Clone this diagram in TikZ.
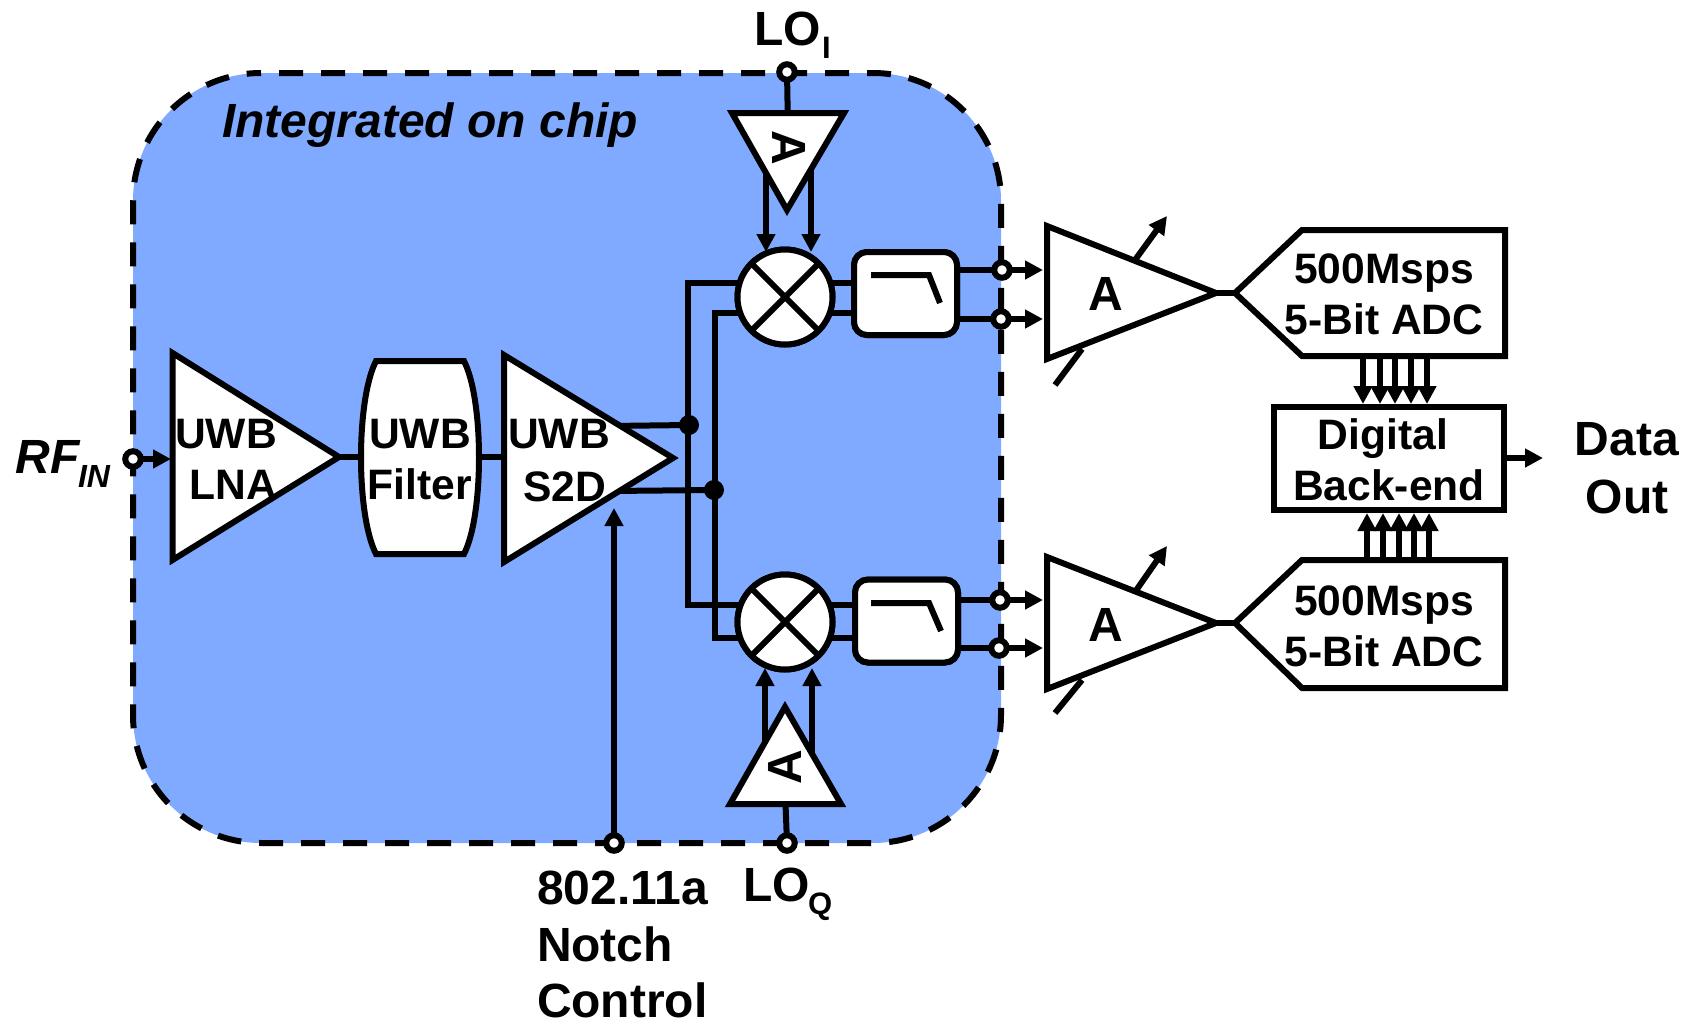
\documentclass[tikz,border=0pt]{standalone}
\usepackage{fontspec}
\setmainfont{Liberation Sans}
\usetikzlibrary{arrows.meta}
\definecolor{chipblue}{RGB}{128,170,255}
\tikzset{
  ln/.style={line width=3pt,line cap=butt,line join=miter,miter limit=10},
  arr/.style={ln,-{Triangle[length=9pt,width=9pt]}},
  shapebox/.style={ln,fill=white},
  term/.style={circle,draw,line width=3pt,fill=white,minimum size=7.75pt,inner sep=0pt,outer sep=0pt},
  dotj/.style={circle,fill=black,minimum size=10pt,inner sep=0pt,outer sep=0pt},
  mixer/.style={circle,draw,line width=3pt,fill=white,minimum size=47.5pt,inner sep=0pt,outer sep=0pt},
  lpf/.style={rectangle,draw,rounded corners=6.5pt,line width=3pt,fill=white,minimum width=51.5pt,minimum height=41.5pt,inner sep=0pt,outer sep=0pt},
  txt/.style={inner sep=0pt,outer sep=0pt,anchor=base,font=\bfseries\fontsize{21.3}{25}\selectfont},
  big/.style={inner sep=0pt,outer sep=0pt,anchor=base,font=\bfseries\fontsize{24}{28}\selectfont},
  bigw/.style={inner sep=0pt,outer sep=0pt,anchor=base west,font=\bfseries\fontsize{24}{28}\selectfont},
  ital/.style={inner sep=0pt,outer sep=0pt,anchor=base west,font=\bfseries\itshape\fontsize{24}{28}\selectfont},
  sub/.style={inner sep=0pt,outer sep=0pt,anchor=base west,font=\bfseries\fontsize{15.5}{18}\selectfont},
}
\begin{document}
\begin{tikzpicture}[x=0.5pt,y=-0.5pt]
\useasboundingbox (0,0) rectangle (1694,1023);
% chip region
\path[fill=chipblue,rounded corners=64pt] (133,73) rectangle (1001,843);
\draw[line width=3pt,dash pattern=on 12pt off 9pt,dash phase=12pt,rounded corners=64pt] (261,73) -- (1001,73) -- (1001,843) -- (133,843) -- (133,73) -- (261,73);
% terminals
\node[term] (rfin) at (133,459) {};
\node[term] (loi) at (787,72) {};
\node[term] (loq) at (787,843) {};
\node[term] (notch) at (614,843) {};
\node[term] (t1) at (1002,270) {};
\node[term] (t2) at (1001,319) {};
\node[term] (t3) at (1000,600) {};
\node[term] (t4) at (999,648) {};
% anchor points
\coordinate (lnaIn) at (171,459);
\coordinate (lnaOut) at (334,457);
\coordinate (filtIn) at (364,457);
\coordinate (filtOut) at (478,457);
\coordinate (s2dIn) at (506,457);
\coordinate (s2dU) at (610,426);
\coordinate (s2dL) at (610,491);
\coordinate (notchTip) at (614,508);
\node[dotj] (d1) at (689,425) {};
\node[dotj] (d2) at (714,490) {};
\node[mixer] (m1) at (785,297) {};
\node[mixer] (m2) at (785,622) {};
\node[lpf] (f1) at (905.5,293.5) {};
\node[lpf] (f2) at (906.5,621) {};
\coordinate (a1a) at (1043,270);
\coordinate (a1b) at (1043,319);
\coordinate (a2a) at (1043,600);
\coordinate (a2b) at (1043,648);
% connectors
\draw[arr] (rfin) -- (lnaIn);
\draw[ln] (lnaOut) -- (filtIn);
\draw[ln] (filtOut) -- (s2dIn);
\draw[ln] (s2dU) -- (d1.center);
\draw[ln] (s2dL) -- (d2.center);
\draw[arr] (notch) -- (notchTip);
\draw[ln] (m1.center |- 0,283) -- (688,283) -- (688,605) -- (785,605);
\draw[ln] (m1.center |- 0,313) -- (715,313) -- (715,638) -- (785,638);
\draw[ln] (m1.center |- 0,283) -- (f1.center |- 0,283);
\draw[ln] (m1.center |- 0,313) -- (f1.center |- 0,313);
\draw[ln] (m2.center |- 0,605) -- (f2.center |- 0,605);
\draw[ln] (m2.center |- 0,638) -- (f2.center |- 0,638);
\draw[ln] (f1.center |- 0,270) -- (t1);
\draw[ln] (f1.center |- 0,319) -- (t2);
\draw[ln] (f2.center |- 0,600) -- (t3);
\draw[ln] (f2.center |- 0,648) -- (t4);
\draw[arr] (t1) -- (a1a);
\draw[arr] (t2) -- (a1b);
\draw[arr] (t3) -- (a2a);
\draw[arr] (t4) -- (a2b);
% LO buffers
\draw[arr] (766,150) -- (766,252);
\draw[arr] (811,150) -- (811,252);
\draw[arr] (765,760) -- (765,668);
\draw[arr] (812,760) -- (812,668);
\draw[ln] (loi) -- (788,130);
\draw[ln] (loq) -- (785,790);
\draw[shapebox] (732,113) -- (844,113) -- (787,210) -- cycle;
\draw[shapebox] (730,804) -- (841,804) -- (785,707) -- cycle;
\node[big,anchor=center,rotate=-90] (aI) at (789,148) {A};
\node[big,anchor=center,rotate=90] (aQ) at (785,767) {A};
% mixers and filters on top
\node[mixer] at (m1) {};
\node[mixer] at (m2) {};
\draw[ln] (m1.45) -- (m1.225);
\draw[ln] (m1.135) -- (m1.315);
\draw[ln] (m2.45) -- (m2.225);
\draw[ln] (m2.135) -- (m2.315);
\node[lpf] at (f1) {};
\node[lpf] at (f2) {};
\draw[ln] (871,275) -- (929,275) -- (940,303);
\draw[ln] (871,603) -- (929,603) -- (941,631);
% signal blocks
\draw[shapebox] (172.5,353) -- (172.5,560) -- (339,457) -- cycle;
\draw[shapebox] (504,355) -- (504,562) -- (673,458) -- cycle;
\draw[shapebox] (376,361) -- (464,361) .. controls (484,400) and (484,515) .. (464,554) -- (376,554) .. controls (356,515) and (356,400) .. (376,361) -- cycle;
% outer amps
\coordinate (amp1) at (1216,293);
\coordinate (amp2) at (1216,623);
\coordinate (adc1) at (1235,293);
\coordinate (adc2) at (1235,623);
\draw[ln] (amp1) -- (adc1);
\draw[ln] (amp2) -- (adc2);
\draw[arr] (1135,260) -- (1167,216);
\draw[ln] (1082,349) -- (1055,385);
\draw[arr] (1135,592) -- (1167,546);
\draw[ln] (1082,680) -- (1055,713);
\draw[shapebox] (1047,226) -- (1047,359) -- (1216,293) -- cycle;
\draw[shapebox] (1047,557) -- (1047,689) -- (1216,623) -- cycle;
\draw[shapebox] (adc1) -- (1302,230) -- (1505,230) -- (1505,356) -- (1302,356) -- cycle;
\draw[shapebox] (adc2) -- (1302,560) -- (1505,560) -- (1505,688) -- (1302,688) -- cycle;
\node[rectangle,draw,line width=3pt,fill=white,minimum width=115pt,minimum height=51.5pt,inner sep=0pt,outer sep=0pt] (dig) at (1389,458.5) {};
% data buses
\foreach \x in {1363,1380,1395,1411,1427} \draw[arr] (\x,356) -- (\x,404);
\foreach \x in {1367,1383,1399,1414,1429} \draw[arr] (\x,560) -- (\x,513);
\coordinate (dout) at (1543,458);
\draw[arr] (dig.east |- dout) -- (dout);
% labels
\node[ital] (chip) at (222,137) {Integrated on chip};
\node[ital] (rf) at (16,473) {RF};
\node[sub,font=\bfseries\itshape\fontsize{16}{18}\selectfont] (rfs) at (78,487) {IN};
\node[bigw] (lo1) at (754,45) {LO};
\node[sub] (lo1s) at (822,58) {I};
\node[bigw] (lo2) at (743,901) {LO};
\node[sub] (lo2s) at (808,914) {Q};
\node[bigw] (n1) at (537,904) {802.11a};
\node[bigw] (n2) at (537,961) {Notch};
\node[bigw] (n3) at (537,1017) {Control};
\node[txt] (u1) at (226,448) {UWB};
\node[txt] (u2) at (233,499) {LNA};
\node[txt] (u3) at (420,448) {UWB};
\node[txt] (u4) at (420,499) {Filter};
\node[txt] (u5) at (559,448) {UWB};
\node[txt] (u6) at (565,501) {S2D};
\node[big] (aa1) at (1106,310) {A};
\node[big] (aa2) at (1106,641) {A};
\node[txt] (c1) at (1384,283) {500Msps};
\node[txt] (c2) at (1384,334) {5-Bit ADC};
\node[txt] (c3) at (1384,615) {500Msps};
\node[txt] (c4) at (1384,666) {5-Bit ADC};
\node[txt] (g1) at (1383,449) {Digital};
\node[txt] (g2) at (1389,500) {Back-end};
\node[big] (o1) at (1627,455) {Data};
\node[big] (o2) at (1627,513) {Out};
\end{tikzpicture}
\end{document}
